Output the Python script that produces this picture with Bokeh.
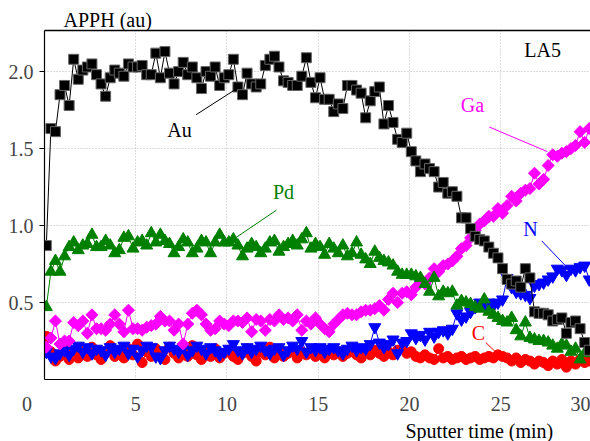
import numpy as np
from bokeh.plotting import figure
from bokeh.models import Range1d, LinearAxis, Label, FixedTicker, NumeralTickFormatter, Title
from bokeh.embed import file_html
from bokeh.resources import INLINE

# sputter time grid (min)
t_start = 0.1
t_step = 0.25
n_pts = 120
time = [round(t_start + t_step * i, 2) for i in range(n_pts)]

au = [0.87, 1.63, 1.61, 1.85, 1.91, 1.78, 2.08, 1.95, 2.01, 2.03,
      2.05, 1.98, 1.92, 1.84, 1.96, 2.01, 1.99, 1.97, 2.05, 2.03,
      2.03, 2.04, 1.98, 1.98, 2.12, 1.96, 2.13, 1.99, 1.92, 2.00,
      2.06, 1.98, 2.03, 1.96, 1.89, 2.00, 1.97, 2.03, 1.91, 1.96,
      1.98, 2.08, 1.90, 1.85, 1.99, 1.92, 1.90, 1.92, 2.04, 2.08,
      2.10, 2.03, 1.94, 1.93, 1.91, 1.91, 1.97, 2.09, 1.93, 1.83,
      1.96, 1.82, 1.82, 1.74, 1.79, 1.76, 1.91, 1.91, 1.88, 1.86,
      1.70, 1.81, 1.87, 1.90, 1.66, 1.78, 1.67, 1.56, 1.54, 1.60,
      1.48, 1.42, 1.35, 1.40, 1.37, 1.35, 1.25, 1.28, 1.21, 1.22,
      1.19, 1.05, 1.05, 0.98, 0.93, 0.91, 0.90, 0.86, 0.82, 0.79,
      0.72, 0.65, 0.62, 0.64, 0.60, 0.72, 0.66, 0.44, 0.43, 0.43,
      0.42, 0.38, 0.39, 0.40, 0.30, 0.37, 0.38, 0.33, 0.24, 0.19]

pd_ = [0.47, 0.70, 0.77, 0.70, 0.80, 0.86, 0.89, 0.84, 0.87, 0.88,
       0.94, 0.86, 0.86, 0.90, 0.87, 0.82, 0.84, 0.92, 0.93, 0.85,
       0.89, 0.90, 0.87, 0.95, 0.89, 0.94, 0.90, 0.88, 0.82, 0.86,
       0.91, 0.89, 0.82, 0.85, 0.90, 0.89, 0.82, 0.89, 0.94, 0.89,
       0.89, 0.91, 0.87, 0.80, 0.85, 0.88, 0.86, 0.82, 0.85, 0.89,
       0.90, 0.83, 0.86, 0.88, 0.90, 0.87, 0.91, 0.95, 0.85, 0.88,
       0.86, 0.81, 0.88, 0.85, 0.82, 0.87, 0.80, 0.82, 0.89, 0.81,
       0.78, 0.75, 0.83, 0.79, 0.77, 0.76, 0.74, 0.70, 0.68, 0.68,
       0.68, 0.67, 0.66, 0.62, 0.57, 0.66, 0.54, 0.57, 0.56, 0.57,
       0.48, 0.51, 0.50, 0.49, 0.47, 0.46, 0.52, 0.44, 0.42, 0.40,
       0.38, 0.37, 0.40, 0.32, 0.28, 0.37, 0.27, 0.26, 0.25, 0.25,
       0.24, 0.22, 0.20, 0.23, 0.22, 0.18, 0.20, 0.13, 0.17, 0.22]

ga = [0.21, 0.27, 0.38, 0.23, 0.25, 0.25, 0.37, 0.35, 0.38, 0.30,
      0.42, 0.33, 0.33, 0.32, 0.36, 0.42, 0.36, 0.31, 0.45, 0.33,
      0.33, 0.32, 0.34, 0.35, 0.36, 0.41, 0.38, 0.38, 0.32, 0.36,
      0.23, 0.36, 0.43, 0.45, 0.42, 0.36, 0.32, 0.33, 0.38, 0.36,
      0.35, 0.38, 0.38, 0.37, 0.40, 0.31, 0.39, 0.38, 0.32, 0.39,
      0.38, 0.42, 0.39, 0.40, 0.38, 0.42, 0.32, 0.38, 0.36, 0.40,
      0.36, 0.33, 0.31, 0.36, 0.39, 0.42, 0.43, 0.42, 0.42, 0.44,
      0.45, 0.45, 0.46, 0.48, 0.45, 0.52, 0.56, 0.50, 0.56, 0.57,
      0.55, 0.60, 0.64, 0.62, 0.66, 0.72, 0.70, 0.74, 0.75, 0.77,
      0.80, 0.85, 0.87, 0.92, 0.97, 1.01, 1.03, 1.06, 1.06, 1.11,
      1.08, 1.13, 1.19, 1.16, 1.21, 1.23, 1.24, 1.34, 1.27, 1.30,
      1.39, 1.46, 1.45, 1.47, 1.48, 1.50, 1.52, 1.61, 1.54, 1.63]

n_ = [0.18, 0.15, 0.14, 0.17, 0.19, 0.16, 0.20, 0.22, 0.18, 0.21,
      0.17, 0.20, 0.19, 0.16, 0.21, 0.18, 0.20, 0.22, 0.17, 0.20,
      0.15, 0.19, 0.22, 0.21, 0.15, 0.14, 0.19, 0.22, 0.20, 0.18,
      0.21, 0.16, 0.19, 0.22, 0.20, 0.17, 0.21, 0.19, 0.16, 0.18,
      0.20, 0.23, 0.19, 0.17, 0.21, 0.18, 0.20, 0.22, 0.19, 0.17,
      0.20, 0.21, 0.16, 0.19, 0.22, 0.20, 0.25, 0.18, 0.21, 0.19,
      0.21, 0.18, 0.20, 0.21, 0.19, 0.17, 0.20, 0.22, 0.19, 0.21,
      0.20, 0.23, 0.34, 0.24, 0.21, 0.23, 0.26, 0.17, 0.24, 0.25,
      0.30, 0.27, 0.29, 0.26, 0.31, 0.28, 0.31, 0.32, 0.30, 0.33,
      0.43, 0.39, 0.41, 0.44, 0.47, 0.50, 0.48, 0.50, 0.48, 0.50,
      0.52, 0.66, 0.60, 0.57, 0.56, 0.55, 0.53, 0.61, 0.62, 0.63,
      0.65, 0.67, 0.72, 0.71, 0.68, 0.72, 0.71, 0.73, 0.74, 0.65]

c_ = [0.28, 0.18, 0.12, 0.15, 0.20, 0.13, 0.17, 0.14, 0.19, 0.15,
      0.21, 0.16, 0.13, 0.18, 0.22, 0.15, 0.17, 0.14, 0.20, 0.16,
      0.23, 0.11, 0.18, 0.15, 0.20, 0.16, 0.13, 0.21, 0.17, 0.14,
      0.19, 0.15, 0.22, 0.16, 0.13, 0.18, 0.15, 0.20, 0.14, 0.17,
      0.19, 0.15, 0.13, 0.17, 0.20, 0.15, 0.12, 0.18, 0.16, 0.21,
      0.14, 0.18, 0.15, 0.17, 0.20, 0.14, 0.18, 0.16, 0.19, 0.15,
      0.17, 0.14, 0.19, 0.16, 0.18, 0.15, 0.17, 0.19, 0.16, 0.14,
      0.18, 0.16, 0.19, 0.17, 0.15, 0.18, 0.16, 0.19, 0.20, 0.17,
      0.18, 0.15, 0.14, 0.16, 0.14, 0.13, 0.20, 0.14, 0.15, 0.13,
      0.14, 0.15, 0.13, 0.14, 0.15, 0.13, 0.14, 0.15, 0.14, 0.16,
      0.15, 0.14, 0.12, 0.14, 0.11, 0.13, 0.12, 0.10, 0.12, 0.11,
      0.09, 0.12, 0.10, 0.13, 0.08, 0.12, 0.10, 0.13, 0.11, 0.12]

grid_x = [5, 10, 15, 20, 25]
x_tick_pos = [0, 5, 10, 15, 20, 25, 29.5]   # "30" sits at the right edge, drawn just inside
x_tick_text = ["0" + "\u00a0" * 7, "5", "10", "15", "20", "25", "30"]
y_ticks = [0.5, 1.0, 1.5, 2.0]

# annotation: (text, color, text_x, text_y, line_x0, line_y0, line_x1, line_y1)
notes = [
    ("Au", "#000000", 7.4, 1.62, 8.31, 1.72, 10.41, 1.88),
    ("Pd", "#008000", 13.1, 1.22, 12.71, 1.10, 10.34, 0.91),
    ("Ga", "#ff00ff", 23.45, 1.78, 24.37, 1.64, 27.56, 1.48),
    ("N", "#0000ff", 26.63, 0.98, 27.25, 0.90, 28.62, 0.73),
    ("C", "#ff0000", 23.78, 0.30, 24.18, 0.24, 24.89, 0.16),
]

FONT = "Liberation Serif"
AXFONT = "Times"
FS = "20px"

p = figure(width=590, height=441, output_backend="svg", toolbar_location=None,
           x_range=Range1d(0, 29.92), y_range=Range1d(0, 2.267),
           min_border_left=44, min_border_right=0, min_border_top=30,
           min_border_bottom=59)
p.outline_line_color = None
p.background_fill_color = "white"
p.border_fill_color = "white"

xax = p.xaxis[0]
yax = p.yaxis[0]

xax.ticker = FixedTicker(ticks=x_tick_pos)
xax.major_label_overrides = {k: v for k, v in zip(x_tick_pos, x_tick_text)}
xax.major_tick_out = 0
xax.major_tick_in = 0
xax.minor_tick_out = 0
xax.minor_tick_in = 0
xax.major_label_text_font = AXFONT
xax.major_label_text_font_size = FS
xax.major_label_text_font_style = "normal"
xax.major_label_standoff = 13
xax.axis_line_color = "black"
xax.axis_line_width = 1.2

yax.ticker = FixedTicker(ticks=y_ticks)
yax.formatter = NumeralTickFormatter(format="0.0")
yax.major_tick_out = 5
yax.major_tick_in = 0
yax.minor_tick_out = 0
yax.minor_tick_in = 0
yax.major_label_text_font = AXFONT
yax.major_label_text_font_size = FS
yax.major_label_text_font_style = "normal"
yax.major_label_standoff = 6
yax.axis_line_color = "black"
yax.axis_line_width = 1.2

p.xgrid.ticker = FixedTicker(ticks=grid_x)
p.ygrid.ticker = FixedTicker(ticks=y_ticks)
for g in (p.xgrid, p.ygrid):
    g.grid_line_color = "#bbbbbb"
    g.grid_line_dash = "1 2"
    g.grid_line_width = 1

top = LinearAxis(ticker=FixedTicker(ticks=[]), major_label_text_font_size="0px",
                 major_tick_out=0, major_tick_in=0, minor_tick_out=0, minor_tick_in=0,
                 axis_line_color="black", axis_line_width=1.5)
p.add_layout(top, "above")

p.title = Title(text="APPH (au)", align="left", offset=19, text_font=AXFONT,
                text_font_size=FS, text_font_style="normal", text_color="black",
                standoff=0)
p.add_layout(Title(text="Sputter time (min)", align="left", offset=361, text_font=AXFONT,
                   text_font_size=FS, text_font_style="normal", text_color="black",
                   standoff=0), "below")

# series (bottom to top)
p.line(time, c_, line_color="#ff0000", line_width=1)
p.scatter(time, c_, marker="circle", size=10, fill_color="#ff0000", line_color="#ff0000")

p.line(time, n_, line_color="#0000ff", line_width=1)
p.scatter(time, n_, marker="inverted_triangle", size=12, fill_color="#0000ff", line_color="#0000ff")

p.line(time, ga, line_color="#ff00ff", line_width=1)
p.scatter(time, ga, marker="square", angle=np.pi / 4, size=8.5, fill_color="#ff00ff", line_color="#ff00ff")

p.line(time, pd_, line_color="#008000", line_width=1)
p.scatter(time, pd_, marker="triangle", size=12, fill_color="#008000", line_color="#008000")

p.line(time, au, line_color="#000000", line_width=1)
p.scatter(time, au, marker="square", size=10, fill_color="#000000", line_color="#666666")

for txt, col, tx, ty, x0, y0, x1, y1 in notes:
    p.segment(x0=[x0], y0=[y0], x1=[x1], y1=[y1], line_color=col, line_width=1)
    p.add_layout(Label(x=tx, y=ty, text=txt, text_color=col, text_font=FONT,
                       text_font_size=FS, text_align="center", text_baseline="middle"))

p.add_layout(Label(x=27.3, y=2.14, text="LA5", text_color="black", text_font=FONT,
                   text_font_size=FS, text_align="center", text_baseline="middle"))

open("out.html", "w").write(file_html(p, INLINE))
